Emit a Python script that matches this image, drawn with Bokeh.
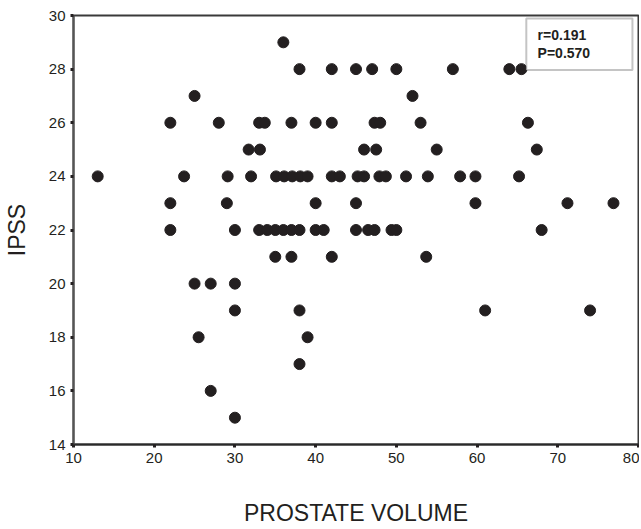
from bokeh.plotting import figure
from bokeh.models import Range1d, Label, BoxAnnotation, FixedTicker
from bokeh.embed import file_html
from bokeh.resources import INLINE

# Prostate volume (x) and IPSS (y)
volume = [
    13,
    22, 28, 33, 33.7, 37, 40, 42, 47.3, 48, 53, 66.3,          # IPSS 26
    31.7, 33.1, 46, 47.5, 55, 67.4,                            # 25
    25, 52,                                                    # 27
    38, 42, 45, 47, 50, 57, 64, 65.5,                          # 28
    36,                                                        # 29
    23.7, 29.1, 32.0, 35.1, 36.1, 37.1, 38.1, 39.0, 42.0, 43.0,
    45.2, 46.0, 47.9, 48.7, 51.2, 53.9, 57.9, 59.8, 65.2,      # 24
    22, 29, 40, 45, 59.8, 71.2, 76.9,                          # 23
    22, 30, 33, 34, 35, 36, 37, 38, 40, 41, 45, 46.5, 47.3, 49.4, 50, 68,  # 22
    35, 37, 42, 53.7,                                          # 21
    25, 27, 30,                                                # 20
    30, 38, 61, 74,                                            # 19
    25.5, 39,                                                  # 18
    38,                                                        # 17
    27,                                                        # 16
    30,                                                        # 15
]
ipss = (
    [24]
    + [26] * 11
    + [25] * 6
    + [27] * 2
    + [28] * 8
    + [29]
    + [24] * 19
    + [23] * 7
    + [22] * 16
    + [21] * 4
    + [20] * 3
    + [19] * 4
    + [18] * 2
    + [17]
    + [16]
    + [15]
)

x_ticks = [10, 20, 30, 40, 50, 60, 70, 80]
y_ticks = [14, 16, 18, 20, 22, 24, 26, 28, 30]
stats_text = ["r=0.191", "P=0.570"]

INK = "#231f20"
FONT = "Liberation Sans"

p = figure(width=639, height=528, output_backend="svg", toolbar_location=None,
           x_range=Range1d(10, 80), y_range=Range1d(14, 30),
           min_border_left=73, min_border_right=1, min_border_top=15, min_border_bottom=74)

p.scatter(volume, ipss, size=11, color=INK, line_color=INK)

p.xgrid.visible = False
p.ygrid.visible = False
p.outline_line_color = "#3a3a3a"
p.outline_line_width = 2
p.background_fill_color = "white"
p.border_fill_color = "white"

for ax in (p.xaxis[0], p.yaxis[0]):
    ax.axis_line_width = 2
    ax.major_tick_line_color = INK
    ax.major_tick_line_width = 3
    ax.major_tick_out = 3
    ax.major_tick_in = 0
    ax.minor_tick_line_color = None
    ax.major_label_text_font = FONT
    ax.major_label_text_font_size = "15px"
    ax.major_label_text_color = INK
    ax.axis_label_text_font = FONT
    ax.axis_label_text_font_size = "23px"
    ax.axis_label_text_font_style = "normal"
    ax.axis_label_text_color = INK

p.xaxis.axis_line_color = "#2a2a2a"
p.yaxis.axis_line_color = "#555555"
p.xaxis.ticker = FixedTicker(ticks=x_ticks)
p.yaxis.ticker = FixedTicker(ticks=y_ticks)
p.xaxis.axis_label = "PROSTATE VOLUME"
p.yaxis.axis_label = "IPSS"
p.xaxis.axis_label_standoff = 34
p.yaxis.axis_label_standoff = 16
p.xaxis.major_label_standoff = 5
p.yaxis.major_label_standoff = 5

box = BoxAnnotation(left=66.1, right=79.25, top=29.89, bottom=27.97,
                    fill_color="white", fill_alpha=1.0,
                    line_color="#3a3a3a", line_width=2)
p.add_layout(box)
p.add_layout(Label(x=67.5, y=29.27, text=stats_text[0], text_font=FONT,
                   text_font_size="14px", text_font_style="bold",
                   text_color=INK, text_baseline="middle"))
p.add_layout(Label(x=67.5, y=28.6, text=stats_text[1], text_font=FONT,
                   text_font_size="14px", text_font_style="bold",
                   text_color=INK, text_baseline="middle"))

open("out.html", "w").write(file_html(p, INLINE))
